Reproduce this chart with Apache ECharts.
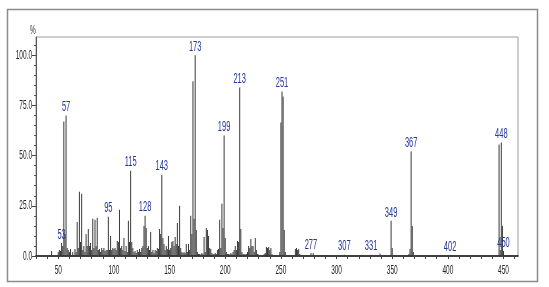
<!DOCTYPE html>
<html>
<head>
<meta charset="utf-8">
<script src="https://cdn.jsdelivr.net/npm/echarts@6/dist/echarts.min.js"></script>
<style>
html, body { margin: 0; padding: 0; background: #fff; }
#chart { width: 549px; height: 287px; }
</style>
</head>
<body>
<div id="chart"></div>
<script>
// m/z of each peak and its relative intensity (%)
var masses = [
    44, 50, 51, 52, 53, 54, 55, 56, 57, 58, 59, 60, 61, 63, 65, 66, 67, 68, 69, 70,
    71, 72, 73, 74, 75, 76, 77, 78, 79, 80, 81, 82, 83, 84, 85, 86, 87, 88, 89, 90,
    91, 92, 93, 94, 95, 96, 97, 98, 99, 100, 101, 102, 103, 104, 105, 106, 107, 108, 109, 110,
    111, 112, 113, 114, 115, 116, 117, 118, 119, 120, 121, 122, 123, 124, 125, 126, 127, 128, 129, 130,
    131, 132, 133, 134, 135, 136, 137, 138, 139, 140, 141, 142, 143, 144, 145, 146, 147, 148, 149, 150,
    151, 152, 153, 154, 155, 156, 157, 158, 159, 160, 161, 162, 163, 164, 165, 166, 167, 168, 169, 170,
    171, 172, 173, 174, 175, 176, 177, 178, 179, 180, 181, 182, 183, 184, 185, 186, 187, 188, 189, 190,
    191, 192, 193, 194, 195, 196, 197, 198, 199, 200, 201, 202, 203, 204, 205, 206, 207, 208, 209, 210,
    211, 212, 213, 214, 215, 216, 217, 218, 219, 220, 221, 222, 223, 224, 225, 226, 227, 228, 229, 230,
    235, 236, 237, 238, 239, 240, 241, 242, 249, 250, 251, 252, 253, 254, 263, 264, 265, 266, 267, 277,
    279, 289, 307, 331, 339, 349, 350, 365, 366, 367, 368, 369, 402, 446, 447, 448, 449, 450
];
var intensities = [
    2.5, 2, 3, 2.5, 6.5, 5, 67, 11, 70, 4, 3, 2, 3.5, 2, 3.5, 2, 17, 4, 32, 7,
    31, 3, 5, 2, 11, 5, 13.5, 5, 6.5, 3, 18.5, 4, 18, 5, 19, 3, 3.5, 2, 4, 3,
    4, 2.5, 3, 3, 19.5, 3, 10, 3, 4, 3.5, 4, 3, 7.5, 7, 23, 4, 5, 3, 9, 2.5,
    5, 2, 17.5, 7, 42.5, 7, 4, 2, 2.5, 1.5, 3, 2, 3.5, 2, 4, 5, 15, 20, 14, 4,
    5, 3, 12, 2, 3, 1.5, 3, 2.5, 4, 3.5, 13.5, 11, 40.5, 9, 6, 3, 5, 3.5, 10, 3,
    4, 7, 7.5, 5, 9.5, 6, 16.5, 5, 25, 4, 2, 1.5, 2, 1.5, 6, 2, 6, 3, 20, 11,
    87, 18.5, 100, 13, 2, 1, 1, 0.8, 1.5, 1, 9.5, 2, 14, 13, 10, 4, 3.5, 1.5, 1, 1,
    1.5, 1, 3, 3.5, 18, 4, 26, 14, 60, 9, 2, 1, 1, 0.8, 1.5, 1, 2, 3, 5, 3,
    7.5, 7, 84, 13.5, 2, 1, 1, 0.8, 1, 2, 5, 4, 8.5, 5, 5, 2, 9, 3, 1, 0.8,
    1, 1.5, 4.5, 4, 4.5, 3, 4, 1, 2, 66.5, 82, 79.5, 13, 2, 3.5, 4, 3, 3.5, 1, 1.5,
    1.5, 0.5, 0.6, 0.6, 1.2, 17.5, 4, 1, 3.5, 52, 15, 2, 0.5, 55.5, 3, 56.5, 15, 2.5
];
// peaks that carry an m/z label
var labelledMasses = [53, 57, 95, 115, 128, 143, 173, 199, 213, 251, 277, 307, 331, 349, 367, 402, 448, 450];

var xTickLabels = [50, 100, 150, 200, 250, 300, 350, 400, 450];
var xTicks = [30, 40, 50, 60, 70, 80, 90, 100, 110, 120, 130, 140, 150, 160, 170, 180, 190, 200, 210, 220,
    230, 240, 250, 260, 270, 280, 290, 300, 310, 320, 330, 340, 350, 360, 370, 380, 390, 400, 410, 420,
    430, 440, 450, 460];
var yTickLabels = [0, 25, 50, 75, 100];
var yTicks = [0, 5, 10, 15, 20, 25, 30, 35, 40, 45, 50, 55, 60, 65, 70, 75, 80, 85, 90, 95, 100, 105];

// the original text is very condensed, so texts are drawn squeezed
var squeeze = 0.5;
var font = '"Liberation Sans", Arial, sans-serif';

var chart = echarts.init(document.getElementById('chart'));
chart.setOption({
    animation: false,
    backgroundColor: '#fff',
    grid: {
        left: 36, right: 31, top: 37, bottom: 31,
        show: true,
        borderColor: '#9a9a9a',
        borderWidth: 1
    },
    xAxis: {
        type: 'value',
        min: 30,
        max: 463,
        splitLine: {show: false},
        axisLine: {lineStyle: {color: '#111', width: 1.5}},
        axisTick: {customValues: xTicks, length: 3, lineStyle: {color: '#444'}},
        axisLabel: {show: false}
    },
    yAxis: [
        {
            type: 'value',
            min: 0,
            max: 109.1,
            splitLine: {show: false},
            axisLine: {show: true, lineStyle: {color: '#555'}},
            axisTick: {customValues: yTicks, length: 2, lineStyle: {color: '#555'}},
            axisLabel: {show: false}
        },
        {
            type: 'value',
            position: 'left',
            min: 0,
            max: 109.1,
            splitLine: {show: false},
            axisLine: {show: false},
            axisTick: {customValues: yTickLabels, length: 4, lineStyle: {color: '#444'}},
            axisLabel: {show: false}
        }
    ],
    series: [
        {
            type: 'bar',
            barWidth: 1,
            itemStyle: {color: '#3a3a3a'},
            data: masses.map(function (m, i) { return [m, intensities[i]]; })
        }
    ]
});

// texts placed through the chart's own scales
var graphics = [
    {
        type: 'rect',
        shape: {x: 7.5, y: 9.5, width: 530, height: 272},
        style: {fill: 'none', stroke: '#8c8c8c', lineWidth: 1.5}
    },
    {
        type: 'text', x: 33, y: 30, scaleX: squeeze,
        style: {text: '%', fill: '#333', font: '13px ' + font, align: 'center', verticalAlign: 'middle'}
    }
];
var baseY = chart.convertToPixel({yAxisIndex: 0}, 0);
xTickLabels.forEach(function (v) {
    graphics.push({
        type: 'text', x: chart.convertToPixel({xAxisIndex: 0}, v), y: baseY + 8, scaleX: squeeze,
        style: {text: String(v), fill: '#222', font: '13px ' + font, align: 'center', verticalAlign: 'top'}
    });
});
yTickLabels.forEach(function (v) {
    graphics.push({
        type: 'text', x: 32, y: chart.convertToPixel({yAxisIndex: 0}, v), scaleX: squeeze,
        style: {text: v.toFixed(1), fill: '#222', font: '13px ' + font, align: 'right', verticalAlign: 'middle'}
    });
});
labelledMasses.forEach(function (m) {
    var p = chart.convertToPixel({gridIndex: 0}, [m, intensities[masses.indexOf(m)]]);
    graphics.push({
        type: 'text', x: p[0], y: p[1] - 1, scaleX: squeeze,
        style: {text: String(m), fill: '#24369a', font: '15px ' + font, align: 'center', verticalAlign: 'bottom'}
    });
});
chart.setOption({graphic: graphics});
</script>
</body>
</html>
